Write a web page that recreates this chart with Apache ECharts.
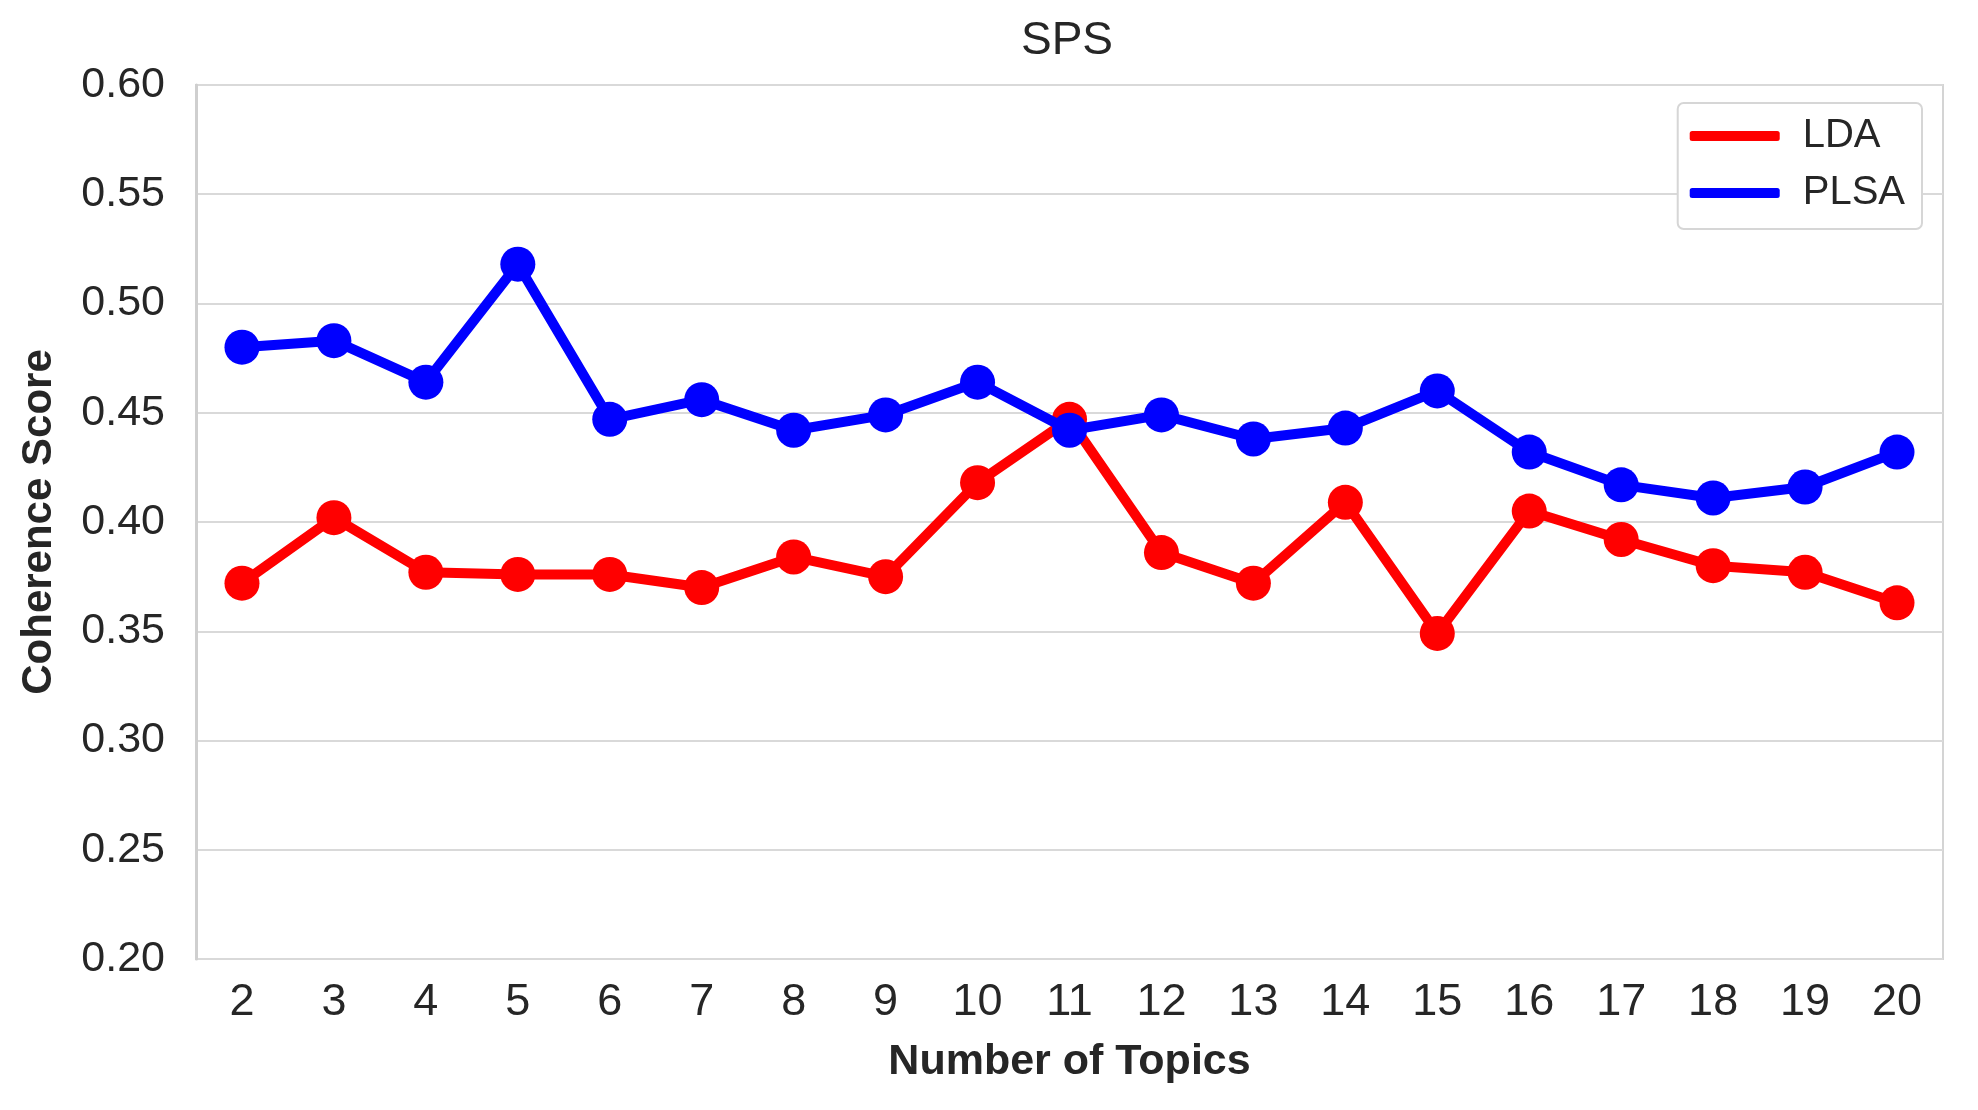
<!DOCTYPE html>
<html>
<head>
<meta charset="utf-8">
<script src="https://cdn.jsdelivr.net/npm/echarts@6/dist/echarts.min.js"></script>
<style>
html,body{margin:0;padding:0;background:#fff;}
#chart{width:1978px;height:1110px;}
</style>
</head>
<body>
<div id="chart"></div>
<script>
const topics = ['2','3','4','5','6','7','8','9','10','11','12','13','14','15','16','17','18','19','20'];
const ldaValues = [0.372,0.402,0.377,0.376,0.376,0.370,0.384,0.375,0.418,0.447,0.386,0.372,0.409,0.349,0.405,0.392,0.380,0.377,0.363];
const plsaValues = [0.480,0.483,0.464,0.518,0.447,0.456,0.442,0.449,0.464,0.442,0.449,0.438,0.443,0.460,0.432,0.417,0.411,0.416,0.432];
const yTicks = [0.20,0.25,0.30,0.35,0.40,0.45,0.50,0.55,0.60];

const chart = echarts.init(document.getElementById('chart'));
const textColor = '#262626';
chart.setOption({
  backgroundColor: '#ffffff',
  animation: false,
  title: {
    text: 'SPS',
    left: 1062,
    textAlign: 'center',
    top: 13,
    textStyle: {fontFamily: 'Liberation Sans', fontSize: 46, fontWeight: 'normal', color: textColor}
  },
  legend: {
    right: 56,
    top: 103,
    orient: 'vertical',
    icon: 'roundRect',
    itemWidth: 90,
    itemHeight: 10,
    itemGap: 17,
    padding: [13, 17, 16, 12],
    borderColor: '#d6d6d6',
    borderWidth: 2,
    borderRadius: 6,
    backgroundColor: '#ffffff',
    textStyle: {fontFamily: 'Liberation Sans', fontSize: 40, color: textColor, padding: [0,0,0,18]},
    data: ['LDA', 'PLSA']
  },
  grid: {
    left: 196,
    right: 35,
    top: 85,
    bottom: 151,
    show: true,
    borderColor: '#d4d4d4',
    borderWidth: 2
  },
  xAxis: {
    type: 'category',
    data: topics,
    boundaryGap: true,
    name: 'Number of Topics',
    nameLocation: 'middle',
    nameGap: 82,
    nameTextStyle: {fontFamily: 'Liberation Sans', fontSize: 43, fontWeight: 'bold', color: textColor},
    axisLine: {show: false},
    axisTick: {show: false},
    axisLabel: {fontFamily: 'Liberation Sans', fontSize: 45, color: textColor, margin: 21},
    splitLine: {show: false}
  },
  yAxis: {
    type: 'value',
    min: 0.2,
    max: 0.6,
    interval: 0.05,
    name: 'Coherence Score',
    nameLocation: 'middle',
    nameGap: 136,
    nameTextStyle: {fontFamily: 'Liberation Sans', fontSize: 42, fontWeight: 'bold', color: textColor},
    axisLine: {show: true, lineStyle: {color: '#cfcfcf', width: 3}},
    axisTick: {show: false},
    axisLabel: {
      fontFamily: 'Liberation Sans', fontSize: 43, color: textColor, margin: 31,
      formatter: v => {
        const t = yTicks.find(x => Math.abs(x - v) < 1e-6);
        return (t !== undefined ? t : v).toFixed(2);
      }
    },
    splitLine: {show: true, lineStyle: {color: '#d9d9d9', width: 2}}
  },
  series: [
    {
      name: 'LDA',
      type: 'line',
      data: ldaValues,
      color: '#ff0000',
      symbol: 'circle',
      symbolSize: 35,
      lineStyle: {width: 10, color: '#ff0000'},
      itemStyle: {color: '#ff0000'},
      z: 2
    },
    {
      name: 'PLSA',
      type: 'line',
      data: plsaValues,
      color: '#0000ff',
      symbol: 'circle',
      symbolSize: 35,
      lineStyle: {width: 10, color: '#0000ff'},
      itemStyle: {color: '#0000ff'},
      z: 3
    }
  ]
});
</script>
</body>
</html>
